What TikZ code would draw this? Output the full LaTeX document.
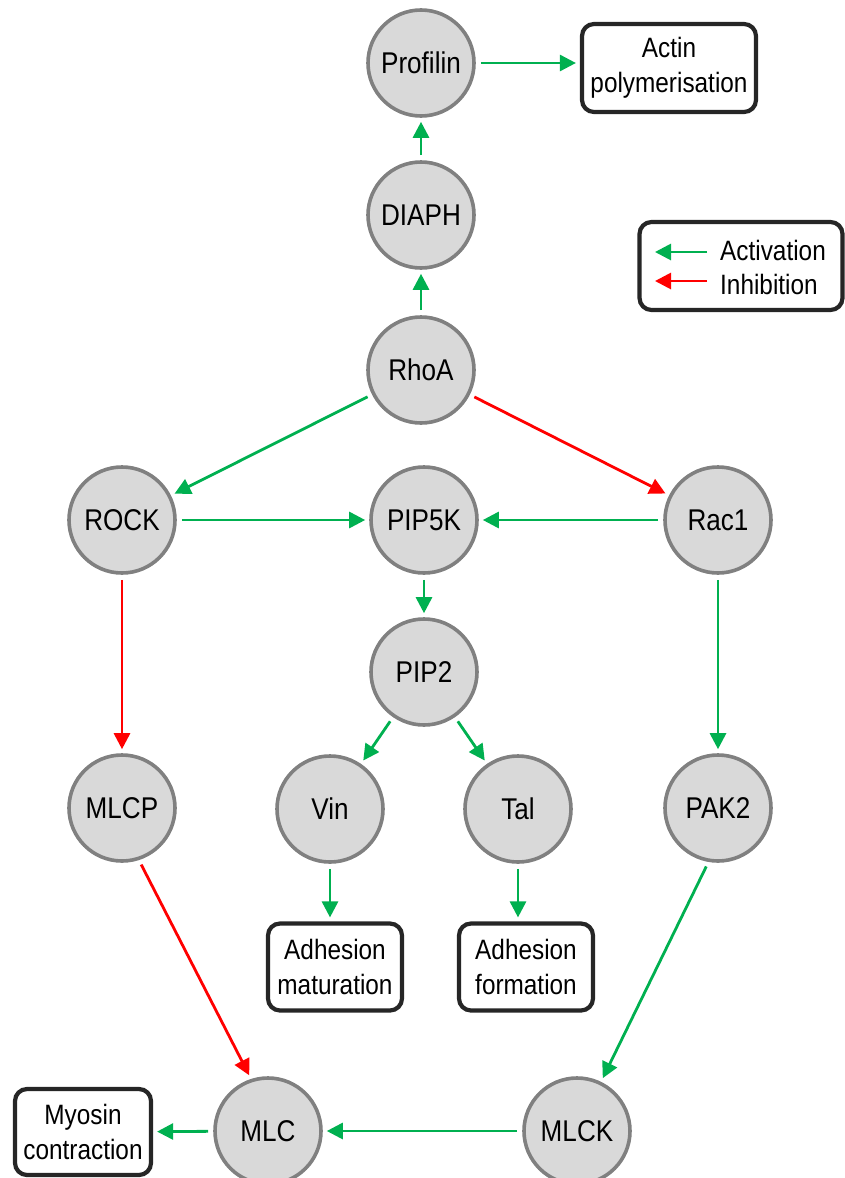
\documentclass[tikz,border=0pt]{standalone}
\usepackage{fontspec}
\setmainfont{Liberation Sans}[FakeStretch=0.87]
\usetikzlibrary{positioning}
\usetikzlibrary{arrows.meta}
\definecolor{protfill}{HTML}{D9D9D9}
\definecolor{protline}{HTML}{808080}
\definecolor{boxline}{HTML}{262626}
\definecolor{actgreen}{HTML}{00B050}
\definecolor{inhred}{HTML}{FF0000}
\tikzset{>={Triangle[length=16pt,width=16pt]}}
\tikzset{prot/.style={draw=protline, fill=protfill, circle, line width=3.6pt, minimum size=106pt, inner sep=0pt, font=\fontsize{30}{36}\selectfont}}
\tikzset{outc/.style={draw=boxline, fill=white, rounded corners=12pt, line width=4.2pt, align=center, inner sep=0pt, minimum width=134pt, minimum height=87pt, font=\fontsize{28}{35}\selectfont}}
\tikzset{act/.style={->, draw=actgreen, line width=2.8pt, shorten <=5pt, shorten >=4pt}}
\tikzset{inh/.style={act, draw=inhred}}
\tikzset{legtext/.style={anchor=west, inner sep=0pt, font=\fontsize{28}{34}\selectfont}}

\begin{document}
\begin{tikzpicture}[x=1pt, y=1pt]
\useasboundingbox (0,0) rectangle (845,-1178);
\begin{scope}[on grid]
\node[prot] (RhoA) at (421, -370) {RhoA};
\node[prot] (DIAPH) [above = 155pt of RhoA] {DIAPH};
\node[prot] (Profilin) [above = 152pt of DIAPH] {Profilin};
\node[prot] (ROCK) at (122, -520) {ROCK};
\node[prot] (PIP5K) at (424, -520) {PIP5K};
\node[prot] (Rac1) at (718, -520) {Rac1};
\node[prot] (PIP2) [below = 152pt of PIP5K] {PIP2};
\node[prot] (MLCP) [below = 288pt of ROCK] {MLCP};
\node[prot] (Vin) at (330, -809) {Vin};
\node[prot] (Tal) at (518, -809) {Tal};
\node[prot] (PAK2) [below = 288pt of Rac1] {PAK2};
\node[prot] (MLC) at (268, -1131) {MLC};
\node[prot] (MLCK) at (577, -1131) {MLCK};

\node[outc, minimum width=174pt, minimum height=88pt] (actin) at (669, -68) {Actin\\polymerisation};
\node[outc] (adhmat) at (335, -967) {Adhesion\\maturation};
\node[outc] (adhform) at (526, -967) {Adhesion\\formation};
\node[outc, minimum width=136pt, minimum height=86pt] (myosin) at (83, -1132) {Myosin\\contraction};
\end{scope}

% legend
\node[outc, minimum width=203pt, minimum height=88pt] (legend) at (741, -266) {};
\coordinate (acttail) at (707, -252);
\coordinate (acthead) at (655, -252);
\coordinate (inhtail) at (707, -281);
\coordinate (inhhead) at (655, -281);
\draw[act, shorten <=0pt, shorten >=0pt] (acttail) -- (acthead);
\draw[inh, shorten <=0pt, shorten >=0pt] (inhtail) -- (inhhead);
\node[legtext] (actlab) at (720, -250) {Activation};
\node[legtext] (inhlab) at (720, -284) {Inhibition};

\draw[act] (Profilin) -- (Profilin -| actin.west);
\draw[act] (DIAPH) -- (Profilin);
\draw[act] (RhoA) -- (DIAPH);
\draw[act] (RhoA) -- (ROCK);
\draw[inh] (RhoA) -- (Rac1);
\draw[act] (ROCK) -- (PIP5K);
\draw[act] (Rac1) -- (PIP5K);
\draw[act] (PIP5K) -- (PIP2);
\draw[act] (PIP2) -- (Vin);
\draw[act] (PIP2) -- (Tal);
\draw[inh] (ROCK) -- (MLCP);
\draw[act] (Rac1) -- (PAK2);
\draw[act] (Vin) -- (Vin |- adhmat.north);
\draw[act] (Tal) -- (Tal |- adhform.north);
\draw[inh] (MLCP.-72) -- (MLC.108);
\draw[act] (PAK2.-100) -- (MLCK.64);
\draw[act] (MLCK) -- (MLC);
\draw[act] (MLC) -- (myosin);
\end{tikzpicture}
\end{document}
